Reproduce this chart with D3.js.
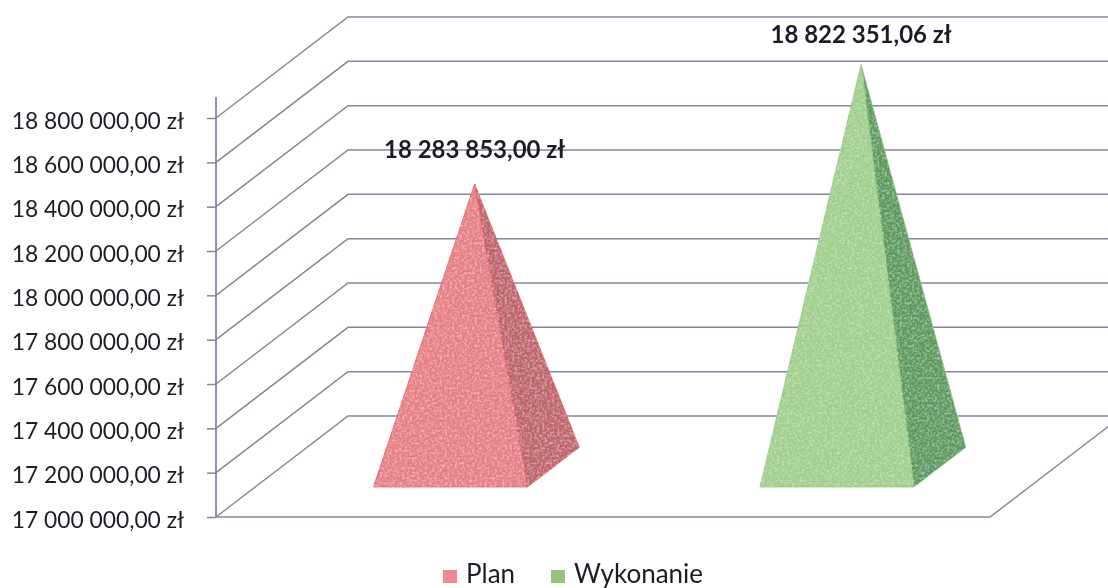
<!DOCTYPE html>
<html><head><meta charset="utf-8">
<script src="https://cdn.jsdelivr.net/npm/d3@7/dist/d3.min.js"></script>
<style>
html,body{margin:0;padding:0;background:#fff;overflow:hidden}
svg{display:block}
text{font-family:Lato,"Open Sans",sans-serif}
</style></head><body>
<svg id="c" width="1108" height="588"></svg>
<script>
const categories = ["Plan", "Wykonanie"];
const seriesValues = [18283853.00, 18822351.06];
const tickValues = [17000000,17200000,17400000,17600000,17800000,18000000,18200000,18400000,18600000,18800000];

const faceColors = ["#e67f85", "#a1cf8c"];
const sideColors = ["#c0626a", "#5a9a5d"];
const edgeColors = ["#e4525c", "#8cc47a"];
const legendColors = ["#f08a90", "#90c680"];
const gridColor = "#85859f";
const labelOffsets = [-26, -22];

const W = 1108, H = 588;
const svg = d3.select("#c").attr("viewBox", [0,0,W,H]);
const defs = svg.append("defs");

const soft = defs.append("filter").attr("id","soft").attr("x","-5%").attr("y","-5%").attr("width","110%").attr("height","110%");
soft.append("feGaussianBlur").attr("stdDeviation",0.6);

const sp = defs.append("filter").attr("id","speckle").attr("x","0").attr("y","0").attr("width","100%").attr("height","100%");
sp.append("feTurbulence").attr("type","fractalNoise").attr("baseFrequency",0.4).attr("numOctaves",3).attr("seed",4).attr("result","n");
sp.append("feColorMatrix").attr("in","n").attr("type","matrix")
  .attr("values","0 0 0 0 1  0 0 0 0 1  0 0 0 0 1  0.8 0 0 0 -0.34").attr("result","w");
sp.append("feComposite").attr("in","w").attr("in2","SourceAlpha").attr("operator","in").attr("result","wc");
sp.append("feMerge").selectAll("feMergeNode").data(["SourceGraphic","wc"]).join("feMergeNode").attr("in",d=>d);

// scales
const y = d3.scaleLinear().domain([17000000,18800000]).range([517,118]);
const x = d3.scalePoint().domain(categories).range([218,991]).padding(0.5);
const depthX = 132, depthY = -101;      // full depth of the 3D box
const frontRight = 990, frontLeft = 216, axisTop = 97;
const halfBase = 77, baseFront = 0.297, baseBack = 0.69, apexDepth = 0.48;

const root = svg.append("g").attr("filter","url(#soft)");

// wall gridlines
const grid = root.append("g").attr("fill","none").attr("stroke",gridColor).attr("stroke-width",1.5);
grid.selectAll("path.w").data(tickValues).join("path").attr("class","w")
  .attr("d", v => `M${frontLeft},${y(v)}L${frontLeft+depthX},${y(v)+depthY}L${W+5},${y(v)+depthY}`);
// floor
grid.append("path").attr("d", `M${frontLeft},${y(tickValues[0])}L${frontRight},${y(tickValues[0])}L${frontRight+depthX},${y(tickValues[0])+depthY}`);

// axis
const fmt = d3.formatLocale({decimal:",",thousands:" ",grouping:[3],currency:[""," zł"]}).format(",.2f");
const money = v => fmt(v) + " zł";
const axisG = root.append("g").attr("transform",`translate(${frontLeft},0)`)
  .call(d3.axisLeft(y).tickValues(tickValues).tickFormat(money).tickSize(9).tickPadding(23));
axisG.select(".domain").attr("d",`M0,${axisTop}V${y(tickValues[0])}`).attr("stroke",gridColor).attr("stroke-width",1.8);
axisG.selectAll(".tick line").attr("stroke",gridColor).attr("stroke-width",1.5);
axisG.selectAll(".tick text").attr("fill","#1f1f25").attr("font-size",22.8).attr("font-family","Lato").attr("dy","0.44em");

// pyramids
const pts = (i) => {
  const c = x(categories[i]), y0 = y(tickValues[0]);
  const fl = [c-halfBase+depthX*baseFront, y0+depthY*baseFront];
  const fr = [c+halfBase+depthX*baseFront, y0+depthY*baseFront];
  const br = [c+halfBase+depthX*baseBack,  y0+depthY*baseBack];
  const ap = [c+depthX*apexDepth, y(seriesValues[i])+depthY*apexDepth];
  return {fl,fr,br,ap};
};
const line = d3.line();
const pyr = root.append("g").selectAll("g").data(categories).join("g");
pyr.append("path").attr("d",(d,i)=>{const p=pts(i);return line([p.ap,p.fr,p.br])+"Z";})
  .attr("fill",(d,i)=>sideColors[i]).attr("stroke",(d,i)=>edgeColors[i]).attr("stroke-width",0.8).attr("filter","url(#speckle)");
pyr.append("path").attr("d",(d,i)=>{const p=pts(i);return line([p.ap,p.fl,p.fr])+"Z";})
  .attr("fill",(d,i)=>faceColors[i]).attr("stroke",(d,i)=>edgeColors[i]).attr("stroke-width",0.8).attr("filter","url(#speckle)");

// data labels
root.append("g").selectAll("text").data(seriesValues).join("text")
  .attr("x",(d,i)=>pts(i).ap[0]).attr("y",(d,i)=>pts(i).ap[1]+labelOffsets[i])
  .attr("text-anchor","middle").attr("font-size",24).attr("font-weight",700).attr("fill","#1f1f28")
  .text(money);

// legend
const legendX = [443,551];
const lg = root.append("g").selectAll("g").data(categories).join("g").attr("transform",(d,i)=>`translate(${legendX[i]},570)`);
lg.append("rect").attr("width",14).attr("height",13).attr("fill",(d,i)=>legendColors[i]);
lg.append("text").attr("x",23).attr("y",13).attr("font-size",26).attr("fill","#1f1f25").text(d=>d);
</script>
</body></html>
